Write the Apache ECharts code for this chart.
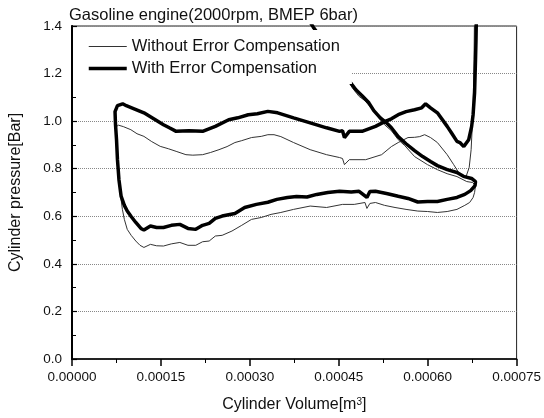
<!DOCTYPE html>
<html>
<head>
<meta charset="utf-8">
<script src="https://cdn.jsdelivr.net/npm/echarts@6/dist/echarts.min.js"></script>
<style>
  html, body { margin: 0; padding: 0; background: #fff; }
  #chart { width: 544px; height: 418px; }
</style>
</head>
<body>
<div id="chart"></div>
<script>
// Pumping-loop P-V diagram of a gasoline engine at 2000 rpm, BMEP 6 bar.
const FONT = '"Liberation Sans", Arial, Helvetica, sans-serif';

const chartTitle = 'Gasoline engine(2000rpm, BMEP 6bar)';
const seriesNames = ['Without Error Compensation', 'With Error Compensation'];
const xTickLabels = ['0.00000', '0.00015', '0.00030', '0.00045', '0.00060', '0.00075'];
const yTickLabels = ['0.0', '0.2', '0.4', '0.6', '0.8', '1.0', '1.2', '1.4'];

// Cylinder volume [m^3] / pressure [bar], without error compensation
const withoutVolume = [
  6.791e-4, 6.782e-4, 6.766e-4, 6.733e-4, 6.700e-4, 6.642e-4, 6.560e-4, 6.522e-4, 6.439e-4, 6.329e-4,
  6.164e-4, 6.048e-4, 5.949e-4, 5.866e-4, 5.779e-4, 5.668e-4, 5.503e-4, 5.388e-4, 5.223e-4, 4.954e-4,
  4.678e-4, 4.596e-4, 4.563e-4, 4.513e-4, 4.294e-4, 4.018e-4, 3.738e-4, 3.523e-4, 3.408e-4, 3.304e-4,
  3.193e-4, 3.028e-4, 2.863e-4, 2.748e-4, 2.616e-4, 2.479e-4, 2.335e-4, 2.203e-4, 2.038e-4, 1.922e-4,
  1.757e-4, 1.625e-4, 1.488e-4, 1.345e-4, 1.213e-4, 1.097e-4, 0.993e-4, 0.866e-4, 0.784e-4, 0.746e-4,
  0.751e-4, 0.767e-4, 0.792e-4, 0.817e-4, 0.850e-4, 0.883e-4, 0.932e-4, 0.998e-4, 1.076e-4, 1.147e-4,
  1.213e-4, 1.323e-4, 1.427e-4, 1.543e-4, 1.675e-4, 1.819e-4, 1.956e-4, 2.088e-4, 2.203e-4, 2.314e-4,
  2.418e-4, 2.533e-4, 2.698e-4, 2.863e-4, 3.028e-4, 3.193e-4, 3.358e-4, 3.523e-4, 3.738e-4, 4.018e-4,
  4.294e-4, 4.563e-4, 4.761e-4, 4.942e-4, 4.975e-4, 5.025e-4, 5.119e-4, 5.272e-4, 5.449e-4, 5.635e-4,
  5.833e-4, 5.998e-4, 6.164e-4, 6.329e-4, 6.494e-4, 6.626e-4, 6.708e-4, 6.766e-4, 6.791e-4, 6.807e-4,
  6.758e-4, 6.659e-4, 6.494e-4, 6.329e-4, 6.164e-4, 5.998e-4, 5.779e-4, 5.614e-4, 5.503e-4, 5.388e-4,
  5.272e-4, 5.173e-4, 5.058e-4, 4.942e-4, 4.843e-4, 4.728e-4, 4.629e-4, 4.348e-4, 4.051e-4, 3.919e-4
];
const withoutPressure = [
  1.467, 1.258, 1.048, 0.880, 0.805, 0.763, 0.771, 0.784, 0.817, 0.859,
  0.910, 0.931, 0.943, 0.935, 0.932, 0.931, 0.910, 0.893, 0.859, 0.838,
  0.838, 0.817, 0.843, 0.847, 0.859, 0.880, 0.910, 0.935, 0.943, 0.943,
  0.936, 0.931, 0.918, 0.910, 0.893, 0.880, 0.868, 0.859, 0.857, 0.859,
  0.873, 0.884, 0.894, 0.914, 0.936, 0.947, 0.964, 0.977, 0.983, 0.977,
  0.922, 0.838, 0.754, 0.692, 0.629, 0.587, 0.545, 0.520, 0.496, 0.478,
  0.469, 0.482, 0.476, 0.475, 0.484, 0.490, 0.478, 0.478, 0.493, 0.496,
  0.517, 0.520, 0.538, 0.562, 0.587, 0.595, 0.608, 0.616, 0.629, 0.643,
  0.637, 0.650, 0.650, 0.658, 0.633, 0.654, 0.658, 0.646, 0.637, 0.629,
  0.622, 0.620, 0.616, 0.620, 0.629, 0.646, 0.658, 0.679, 0.700, 0.729,
  0.742, 0.746, 0.767, 0.779, 0.796, 0.817, 0.851, 0.897, 0.922, 0.960,
  0.985, 1.014, 1.052, 1.086, 1.104, 1.140, 1.182, 1.291, 1.396, 1.446
];

// Cylinder volume [m^3] / pressure [bar], with error compensation
const withVolume = [
  6.824e-4, 6.815e-4, 6.807e-4, 6.791e-4, 6.766e-4, 6.741e-4, 6.692e-4, 6.609e-4, 6.543e-4, 6.494e-4,
  6.411e-4, 6.329e-4, 6.164e-4, 6.048e-4, 5.965e-4, 5.899e-4, 5.779e-4, 5.635e-4, 5.503e-4, 5.388e-4,
  5.284e-4, 5.119e-4, 4.893e-4, 4.678e-4, 4.596e-4, 4.563e-4, 4.513e-4, 4.294e-4, 4.018e-4, 3.738e-4,
  3.469e-4, 3.304e-4, 3.127e-4, 2.974e-4, 2.797e-4, 2.644e-4, 2.418e-4, 2.203e-4, 1.972e-4, 1.757e-4,
  1.642e-4, 1.543e-4, 1.378e-4, 1.213e-4, 1.048e-4, 0.916e-4, 0.855e-4, 0.767e-4, 0.726e-4, 0.734e-4,
  0.751e-4, 0.767e-4, 0.792e-4, 0.828e-4, 0.883e-4, 0.932e-4, 0.998e-4, 1.076e-4, 1.163e-4, 1.213e-4,
  1.323e-4, 1.427e-4, 1.543e-4, 1.675e-4, 1.819e-4, 1.956e-4, 2.088e-4, 2.203e-4, 2.314e-4, 2.418e-4,
  2.533e-4, 2.748e-4, 2.913e-4, 3.111e-4, 3.304e-4, 3.457e-4, 3.634e-4, 3.787e-4, 3.964e-4, 4.129e-4,
  4.315e-4, 4.513e-4, 4.711e-4, 4.843e-4, 4.975e-4, 5.025e-4, 5.119e-4, 5.305e-4, 5.503e-4, 5.668e-4,
  5.833e-4, 5.998e-4, 6.164e-4, 6.329e-4, 6.494e-4, 6.626e-4, 6.725e-4, 6.799e-4, 6.807e-4, 6.741e-4,
  6.604e-4, 6.494e-4, 6.329e-4, 6.164e-4, 6.048e-4, 5.916e-4, 5.779e-4, 5.635e-4, 5.503e-4, 5.388e-4,
  5.305e-4, 5.201e-4, 5.091e-4, 5.008e-4, 4.893e-4, 4.789e-4, 4.678e-4, 4.624e-4, 4.348e-4, 4.068e-4,
  3.936e-4
];
const withPressure = [
  1.467, 1.341, 1.258, 1.119, 1.027, 0.977, 0.922, 0.893, 0.910, 0.915,
  0.947, 0.978, 1.035, 1.056, 1.073, 1.056, 1.048, 1.040, 1.027, 1.010,
  0.999, 0.978, 0.957, 0.957, 0.931, 0.960, 0.957, 0.972, 0.993, 1.014,
  1.035, 1.041, 1.031, 1.027, 1.014, 1.006, 0.978, 0.957, 0.960, 0.957,
  0.972, 0.985, 1.010, 1.035, 1.052, 1.065, 1.073, 1.065, 1.040, 0.985,
  0.922, 0.838, 0.754, 0.685, 0.646, 0.622, 0.599, 0.574, 0.549, 0.542,
  0.559, 0.553, 0.553, 0.562, 0.566, 0.549, 0.545, 0.562, 0.570, 0.591,
  0.601, 0.612, 0.637, 0.650, 0.659, 0.671, 0.679, 0.683, 0.681, 0.692,
  0.700, 0.705, 0.702, 0.705, 0.679, 0.704, 0.705, 0.696, 0.684, 0.675,
  0.660, 0.662, 0.662, 0.671, 0.679, 0.692, 0.708, 0.729, 0.746, 0.759,
  0.768, 0.784, 0.796, 0.813, 0.830, 0.851, 0.876, 0.905, 0.935, 0.972,
  0.993, 1.014, 1.044, 1.077, 1.107, 1.132, 1.169, 1.195, 1.299, 1.396,
  1.450
];

const lineStyles = [
  { color: '#333', width: 1 },
  { color: '#000', width: 3.5 }
];

function zipPoints(vols, pres) {
  return vols.map((v, i) => [v, pres[i]]);
}

const chart = echarts.init(document.getElementById('chart'), null, { renderer: 'canvas' });

chart.setOption({
  animation: false,
  backgroundColor: '#fff',
  textStyle: { fontFamily: FONT, color: '#000' },
  title: {
    text: chartTitle,
    left: 64,
    top: 2,
    textStyle: { fontFamily: FONT, fontSize: 16.5, fontWeight: 'normal', color: '#111' }
  },
  grid: {
    left: 66,
    right: 23,
    top: 26,
    bottom: 58,
    show: true,
    borderColor: '#222',
    borderWidth: 1,
    backgroundColor: 'transparent'
  },
  legend: {
    orient: 'vertical',
    left: 73,
    top: 30,
    z: 10,
    padding: [8, 12, 7, 14],
    itemWidth: 38,
    itemHeight: 14,
    itemGap: 5,
    backgroundColor: '#fff',
    itemStyle: { opacity: 0 },
    data: seriesNames.map((name, i) => ({
      name,
      itemStyle: { opacity: 0 },
      lineStyle: lineStyles[i]
    })),
    textStyle: { fontFamily: FONT, fontSize: 16.5, color: '#111' }
  },
  xAxis: {
    type: 'value',
    min: 0,
    max: 0.00075,
    interval: 0.00015,
    name: 'Cylinder Volume[m{sup|3}]',
    nameLocation: 'middle',
    nameGap: 38,
    nameTextStyle: {
      fontFamily: FONT, fontSize: 16, color: '#111',
      rich: { sup: { fontFamily: FONT, fontSize: 10, verticalAlign: 'top', color: '#111' } }
    },
    axisLine: { show: true, onZero: false, lineStyle: { color: '#000', width: 1.5 } },
    axisTick: { show: true, inside: false, length: 7, lineStyle: { color: '#000', width: 1.5 } },
    minorTick: { show: true, splitNumber: 2, length: 4, lineStyle: { color: '#000', width: 1 } },
    axisLabel: {
      margin: 11,
      fontFamily: FONT, fontSize: 13.5, color: '#111',
      formatter: v => xTickLabels[Math.round(v / 0.00015)]
    },
    splitLine: { show: false }
  },
  yAxis: [{
    type: 'value',
    min: 0,
    max: 1.4,
    interval: 0.2,
    name: 'Cylinder pressure[Bar]',
    nameLocation: 'middle',
    nameGap: 48,
    nameRotate: 90,
    nameTextStyle: { fontFamily: FONT, fontSize: 16, color: '#111' },
    axisLine: { show: true, onZero: false, lineStyle: { color: '#000', width: 1.5 } },
    axisTick: { show: true, inside: true, length: 5, lineStyle: { color: '#000', width: 1.2 } },
    minorTick: { show: true, splitNumber: 2, length: 4, lineStyle: { color: '#000', width: 1 } },
    axisLabel: {
      margin: 10,
      fontFamily: FONT, fontSize: 13.5, color: '#111',
      formatter: v => yTickLabels[Math.round(v / 0.2)]
    },
    splitLine: { show: true, lineStyle: { color: '#888', width: 1, type: 'dotted' } }
  }, {
    type: 'value',
    position: 'right',
    min: 0,
    max: 1.4,
    axisLine: { show: true, lineStyle: { color: '#000', width: 2 } },
    axisTick: { show: false },
    axisLabel: { show: false },
    splitLine: { show: false }
  }],
  series: [{
    name: seriesNames[0],
    type: 'line',
    data: zipPoints(withoutVolume, withoutPressure),
    symbol: 'none',
    clip: true,
    itemStyle: { color: lineStyles[0].color },
    lineStyle: lineStyles[0]
  }, {
    name: seriesNames[1],
    type: 'line',
    data: zipPoints(withVolume, withPressure),
    symbol: 'none',
    clip: true,
    itemStyle: { color: lineStyles[1].color },
    lineStyle: lineStyles[1]
  }]
});
</script>
</body>
</html>
